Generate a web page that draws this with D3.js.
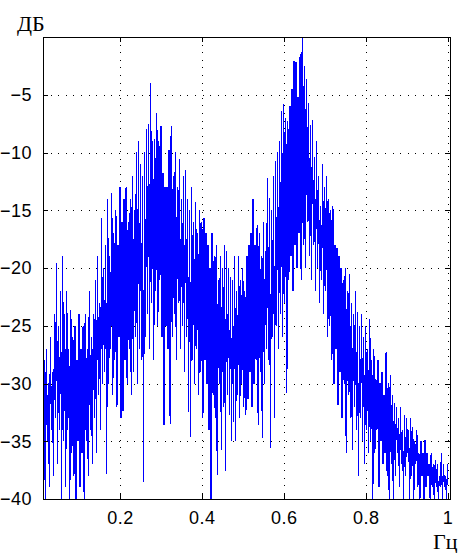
<!DOCTYPE html>
<html lang="ru">
<head>
    <meta charset="UTF-8">
    <script src="https://d3js.org/d3.v7.min.js"></script>
    <style>
        body { margin: 0; background: #fff; }
        .tick text { font-family: "Liberation Sans", Arial, sans-serif; font-size: 18px; letter-spacing: 0.5px; fill: #000; }
        .unit { font-family: "Liberation Serif", "Times New Roman", serif; font-size: 22px; fill: #000; }
    </style>
    <title>Спектр</title>
</head>
<body>
    <div id="graph-div"></div>
    <script>
        // spectrum in dB, one value per frequency bin (0.0125 ... 1.0, step 0.0025)
        const freqStart = 0.0125;
        const freqStep = 0.0025;

        const lowBand = [
            -36, -28, -40, -27, -35, -30, -39, -26, -34, -29, -38, -24, -33, -19.6, -37, -25, -34, -22, -40, -19,
            -35, -24, -39, -22, -34, -27, -40, -23.6, -36, -26, -38, -25, -40, -28, -35, -24, -39, -27, -36, -25,
            -40, -24, -35, -27, -38, -22, -34, -26, -37, -24, -33, -21, -36, -19, -31, -23, -34, -15.7, -30, -20
        ];
        const firstHump = [
            -29, -18, -37.8, -14, -30, -19, -27, -13.5, -31, -17, -28, -15, -32, -18, -26, -13, -33, -16, -32.4, -14,
            -28, -13, -30, -16, -27, -14, -31, -12, -29, -15, -26, -10, -30, -9, -27, -11, -28, -12, -38.5, -10,
            -26, -8, -24, -7.5, -27, -4, -23, -9, -28, -8.8, -22, -6.6, -25, -9, -21, -7.7, -26, -11.8, -33.6, -13,
            -25, -13, -27, -9.8, -33.5, -7.7, -26, -12, -24, -10, -28, -13, -23, -10.6, -27, -14, -25, -12, -29, -11.5
        ];
        const valley = [
            -26, -14, -32.5, -15, -34.6, -13, -28, -16, -30, -14.3, -27, -17, -31, -15, -29, -16, -33, -15.7, -28, -17,
            -30, -18, -34, -20, -40, -17, -31, -19, -33, -18, -37.9, -21, -30, -19, -35.8, -20, -32, -18, -37.6, -18.5,
            -31, -20, -32.7, -20.8, -35, -21, -33.3, -19, -35, -22, -31, -19, -33, -21, -30, -20, -32, -22, -32.7, -19,
            -31.3, -18, -29, -17, -32, -14, -30, -18, -28, -16.3, -33.6, -17, -29, -19, -34.7, -16, -30, -18.5, -27, -12.2
        ];
        const secondHump = [
            -28, -13.9, -35.6, -15, -26, -12, -33, -10.7, -25, -10, -27, -9, -24, -6.4, -26, -5.8, -23, -7, -30.8, -7.3,
            -21, -6, -19, -4.5, -22, -2.1, -18, -2.2, -20, -5.2, -17, -1.5, -21, 0, -18, -2.5, -20, -3.6, -16, -5.7,
            -19, -7.6, -21, -7.2, -18, -10.4, -22, -9, -20, -12, -23, -14.6, -21, -11, -24, -13, -22, -12, -26, -14,
            -25, -15, -28, -14.6, -30, -18, -27, -18.3, -31.9, -19, -29, -20, -33, -21, -30, -20, -36, -22, -31, -20.5
        ];
        const tail = [
            -33, -23, -35.8, -24, -32, -22, -34, -23.8, -38, -25, -33, -24, -35, -26, -37, -25, -34, -27, -36, -24.4,
            -35, -28, -40, -27, -36, -29.6, -34, -28, -39, -30, -35, -29, -37, -31, -36, -27.3, -38, -30, -40, -29.3,
            -37, -31, -40, -31.7, -38, -32, -36, -33, -39, -32, -37, -34, -40, -32.7, -38, -33, -36, -34, -40, -33,
            -38, -33.8, -40, -35, -37, -34, -39, -36, -40, -35, -38, -36, -40, -34.9, -39, -36, -38, -37, -40, -36,
            -39, -37, -40, -36.6, -39, -37, -40, -38, -39, -36, -40, -37, -39, -38, -40, -37
        ];

        const xTicks = [0.2, 0.4, 0.6, 0.8, 1];
        const yTicks = [-40, -35, -30, -25, -20, -15, -10, -5];

        const dataset = lowBand.concat(firstHump, valley, secondHump, tail)
            .map((v, i) => ({ f: freqStart + i * freqStep, db: v }));

        const w = 461;
        const h = 553;
        const padLeft = 43, padRight = 450, padTop = 37, padBottom = 499;

        const xScale = d3.scaleLinear().domain([0.012, 1.006]).range([padLeft, padRight]);
        const yScale = d3.scaleLinear().domain([-40, 0]).range([padBottom, padTop]);

        const svg = d3.select("#graph-div")
                      .append("svg")
                      .attr("width", w)
                      .attr("height", h);

        svg.append("clipPath").attr("id", "plot-clip")
           .append("rect")
           .attr("x", padLeft).attr("y", padTop)
           .attr("width", padRight - padLeft).attr("height", padBottom - padTop);

        //grid
        const grid = svg.append("g")
                        .attr("stroke", "#000")
                        .attr("stroke-width", 1)
                        .attr("stroke-dasharray", "1,6.6")
                        .attr("shape-rendering", "crispEdges");
        grid.selectAll(".vgrid")
            .data(xTicks)
            .enter()
            .append("line")
            .attr("x1", d => Math.round(xScale(d)) + 0.5)
            .attr("x2", d => Math.round(xScale(d)) + 0.5)
            .attr("y1", padTop)
            .attr("y2", padBottom);
        grid.selectAll(".hgrid")
            .data(yTicks)
            .enter()
            .append("line")
            .attr("y1", d => Math.round(yScale(d)) + 0.5)
            .attr("y2", d => Math.round(yScale(d)) + 0.5)
            .attr("x1", padLeft)
            .attr("x2", padRight);

        //spectrum
        const line = d3.line()
                       .x(d => xScale(d.f))
                       .y(d => yScale(d.db));
        svg.append("path")
           .datum(dataset)
           .attr("clip-path", "url(#plot-clip)")
           .attr("fill", "none")
           .attr("stroke", "#0000ff")
           .attr("stroke-width", 1.2)
           .attr("shape-rendering", "crispEdges")
           .attr("d", line);

        //axes, ticks inward
        const xAxis = d3.axisBottom(xScale).tickValues(xTicks).tickSizeInner(-5).tickSizeOuter(0)
                        .tickPadding(12).tickFormat(d3.format("~g"));
        const yAxis = d3.axisLeft(yScale).tickValues(yTicks).tickSizeInner(-5).tickSizeOuter(0)
                        .tickPadding(11);
        svg.append("g")
           .attr("id", "x-axis")
           .attr("transform", "translate(0," + padBottom + ")")
           .call(xAxis)
           .call(g => g.select(".domain").remove());
        svg.append("g")
           .attr("id", "y-axis")
           .attr("transform", "translate(" + padLeft + ",0)")
           .call(yAxis)
           .call(g => g.select(".domain").remove());
        svg.append("g")
           .attr("transform", "translate(0," + padTop + ")")
           .call(d3.axisTop(xScale).tickValues(xTicks).tickSizeInner(-5).tickSizeOuter(0).tickFormat(""))
           .call(g => g.select(".domain").remove());
        svg.append("g")
           .attr("transform", "translate(" + padRight + ",0)")
           .call(d3.axisRight(yScale).tickValues(yTicks).tickSizeInner(-5).tickSizeOuter(0).tickFormat(""))
           .call(g => g.select(".domain").remove());
        svg.selectAll(".tick line").attr("shape-rendering", "crispEdges");

        //box
        svg.append("rect")
           .attr("x", padLeft + 0.5)
           .attr("y", padTop + 0.5)
           .attr("width", padRight - padLeft)
           .attr("height", padBottom - padTop)
           .attr("fill", "none")
           .attr("stroke", "#000")
           .attr("stroke-width", 1)
           .attr("shape-rendering", "crispEdges");

        //units
        svg.append("text")
           .attr("class", "unit")
           .attr("x", 17)
           .attr("y", 31)
           .text("ДБ");
        svg.append("text")
           .attr("class", "unit")
           .attr("x", 433)
           .attr("y", 549)
           .text("Гц");
    </script>
</body>
</html>
